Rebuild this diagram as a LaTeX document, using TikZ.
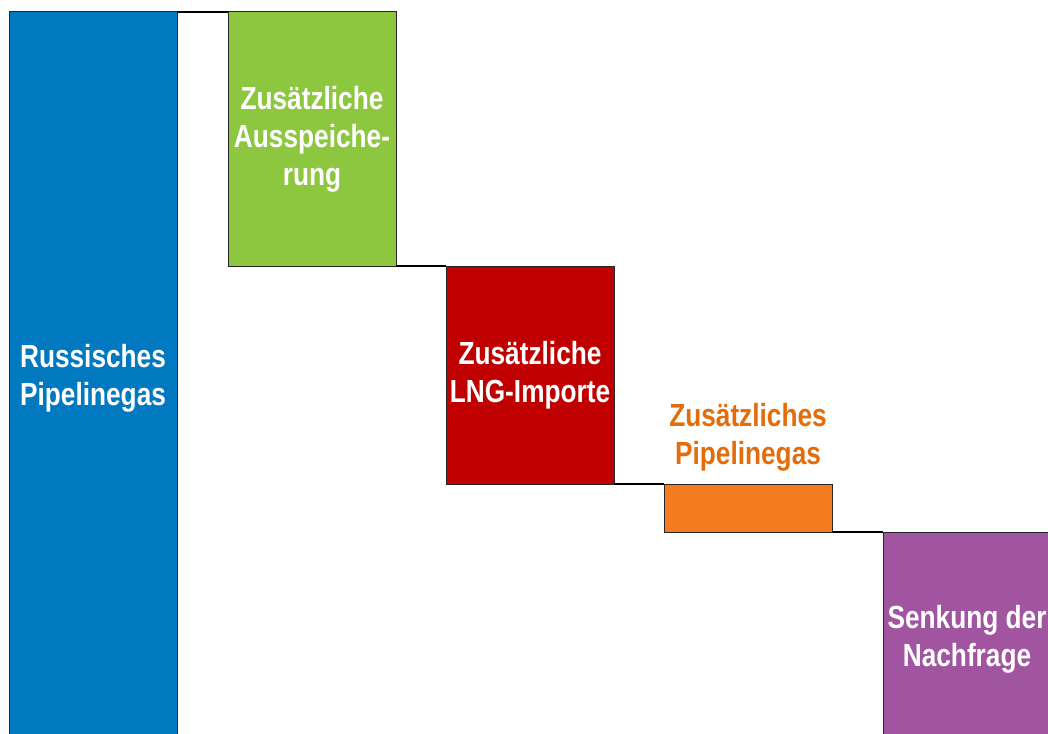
\documentclass[tikz,border=0pt]{standalone}
\usepackage{fontspec}
\newfontfamily\barfont{Liberation Sans}[FakeStretch=0.82]
\usetikzlibrary{positioning}

\definecolor{gasblue}{RGB}{0,121,193}
\definecolor{gasgreen}{RGB}{141,198,63}
\definecolor{gasred}{RGB}{192,0,0}
\definecolor{gasorange}{RGB}{244,123,32}
\definecolor{gaspurple}{RGB}{161,85,160}
\definecolor{gasorangetext}{RGB}{228,108,10}

\tikzset{
    bar/.style={draw=black!85, line width=1pt, minimum width=168pt, anchor=north west,
        text=white, align=center, inner sep=0pt, outer sep=0pt,
        font=\barfont\bfseries\fontsize{32}{38}\selectfont},
    step line/.style={line width=2.5pt, black}
}

\begin{document}
\begin{tikzpicture}[x=1pt, y=-1pt]
    \useasboundingbox (0,0) rectangle (1048,733);

    % Russian pipeline gas
    \node[bar, fill=gasblue, minimum height=732pt] (russ) at (9,12) {Russisches\\Pipelinegas};

    % Storage
    \node[bar, fill=gasgreen, minimum height=254pt] (store) at (228,12) {Zusätzliche\\Ausspeiche-\\rung};

    % LNG
    \node[bar, fill=gasred, minimum height=218pt] (lng) at (446,266) {Zusätzliche\\LNG-Importe};

    % Additional pipeline gas, label above the bar
    \node[bar, fill=gasorange, minimum height=48pt] (pipe) at (664,484) {};
    \node[align=center, inner sep=0pt, text=gasorangetext,
          font=\barfont\bfseries\fontsize{32}{38}\selectfont,
          above=13pt of pipe] (pipelabel) {Zusätzliches\\Pipelinegas};

    % Demand reduction
    \node[bar, fill=gaspurple, minimum height=214pt] (demand) at (883,532) {Senkung der\\Nachfrage};

    % Steps between the bars
    \draw[step line] (russ.north east) -- (store.north west);
    \draw[step line] (store.south east) -- (lng.north west);
    \draw[step line] (lng.south east) -- (pipe.north west);
    \draw[step line] (pipe.south east) -- (demand.north west);
\end{tikzpicture}
\end{document}
